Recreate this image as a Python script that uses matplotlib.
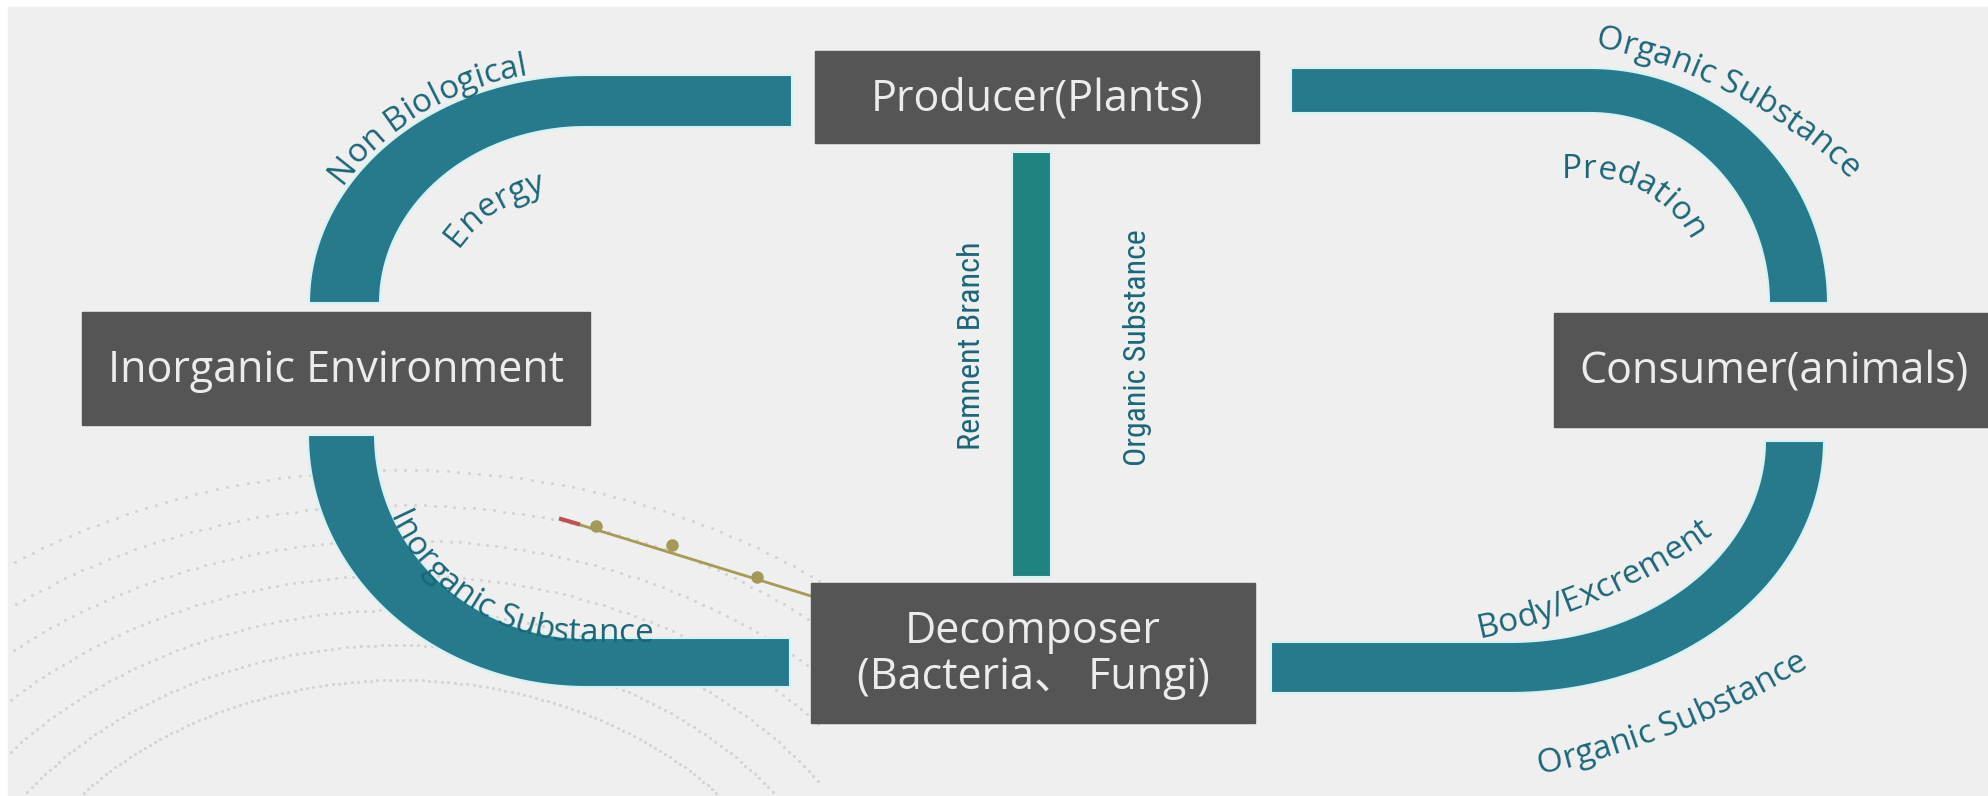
import numpy as np
import matplotlib.pyplot as plt
from matplotlib.patches import Rectangle, Polygon
from matplotlib import font_manager
from matplotlib.font_manager import FontProperties

# ---- diagram content ----
box_names = ["Producer(Plants)", "Inorganic Environment", "Consumer(animals)",
             "Decomposer\n(Bacteria、 Fungi)"]
flow_labels = ["Non Biological", "Energy", "Organic Substance", "Predation",
               "Inorganic Substance", "Body/Excrement", "Organic Substance"]
bar_labels = ["Remnent Branch", "Organic Substance"]

# ---- layout (pixel coordinates, y downwards) ----
W, H = 1988, 796
box_xy = [(815, 51, 444, 92), (82, 312, 508, 113), (1554, 313, 440, 114), (811, 583, 444, 140)]
# bands: ellipse centre, outer radii, inner radii, start/end angle, straight end x
bands = [
    dict(c=(586, 303), o=(277, 228), i=(206, 176), t=(180, 270), end=792),
    dict(c=(1590, 303), o=(238, 235), i=(179, 190), t=(270, 360), end=1291),
    dict(c=(586, 435), o=(278, 252), i=(211, 203), t=(90, 180), end=790),
    dict(c=(1510, 441), o=(314, 252), i=(255, 201), t=(0, 90), end=1271),
]
# label baselines: ellipse centre, radii, angle range, centre angle, reading direction
label_pos = [((586, 303), (283, 234), (180, 270), 235, 1),
             ((586, 303), (146, 116), (180, 270), 232, 1),
             ((1500, 538), (500, 500), (240, 355), 297.5, 1),
             ((1590, 303), (114, 125), (270, 360), 294, 1),
             ((586, 435), (215, 207), (90, 180), 114, -1),
             ((1358, 50), (600, 600), (10, 120), 66, -1),
             ((1342, -104), (900, 900), (30, 110), 68, -1)]
bar_pos = [(971, 346, 208), (1138, 348, 236)]

band_col = '#277a8b'
bar_col = '#1f8480'
box_col = '#555555'
lab_col = '#1b6678'

main_font = ['Open Sans', 'Noto Sans CJK SC', 'DejaVu Sans']

# pick a narrow face for the two vertical labels if one is installed
narrow_fp = FontProperties(family='Open Sans')
for f in font_manager.fontManager.ttflist:
    if f.name in ('Liberation Sans Narrow', 'Roboto Condensed', 'Open Sans Condensed'):
        narrow_fp = FontProperties(family=f.name)
        break
else:
    for f in font_manager.fontManager.ttflist:
        if f.name == 'DejaVu Sans' and f.stretch == 'condensed':
            narrow_fp = FontProperties(family='DejaVu Sans', stretch='condensed')
            break

fig = plt.figure(figsize=(W / 100, H / 100), dpi=100)
ax = fig.add_axes([0, 0, 1, 1])
ax.set_xlim(0, W)
ax.set_ylim(H, 0)
ax.axis('off')
ax.add_patch(Rectangle((8, 7), W, H, color='#efefef', zorder=0))
renderer = fig.canvas.get_renderer()

# faint dotted globe in the lower left background
for k in range(7):
    tg = np.radians(np.linspace(200, 340, 160))
    gx = 400 + (420 + 45 * k) * np.cos(tg)
    gy = 1010 + (330 + 35 * k) * np.sin(tg)
    keep = (gx > 10) & (gx < 820) & (gy < 796)
    ax.plot(gx[keep], gy[keep], '.', color='#d4d4d4', ms=2.5, zorder=0.5)

# decoration line at lower left
ax.plot([571, 811], [522, 596], color='#a89a55', lw=2, zorder=1)
ax.plot([561, 578], [519, 524], color='#c0504d', lw=3, zorder=1)
ax.plot([596, 672, 757], [526, 545, 577], 'o', color='#a39a5a', ms=8, zorder=1)


def ell(c, r, t):
    return c[0] + r[0] * np.cos(t), c[1] + r[1] * np.sin(t)


for b in bands:
    t = np.radians(np.linspace(b['t'][0], b['t'][1], 120))
    ox, oy = ell(b['c'], b['o'], t)
    ix, iy = ell(b['c'], b['i'], t[::-1])
    # straight part towards the middle boxes
    if b['t'] in [(180, 270), (0, 90)]:
        xs = np.r_[ox, b['end'], b['end'], ix]
        ys = np.r_[oy, oy[-1], iy[0], iy]
    else:
        xs = np.r_[b['end'], ox, ix, b['end']]
        ys = np.r_[oy[0], oy, iy, iy[-1]]
    ax.add_patch(Polygon(np.c_[xs, ys], closed=True, fc=band_col, ec='#d6f2f4', lw=1.5, zorder=2))

# vertical bar between producer and decomposer
ax.add_patch(Rectangle((1012, 152), 39, 425, fc=bar_col, ec='#d6f2f4', lw=1.5, zorder=2))

for (x, y, w, h), name in zip(box_xy, box_names):
    ax.add_patch(Rectangle((x, y), w, h, color=box_col, zorder=3))
    ax.text(x + w / 2, y + h / 2 + 2, name, color='#ececec', fontsize=31, family=main_font,
            ha='center', va='center', linespacing=1.05, zorder=4)


def width(txt, fp):
    return renderer.get_text_width_height_descent(txt + 'l', fp, ismath=False)[0] - \
        renderer.get_text_width_height_descent('l', fp, ismath=False)[0]


def arc_text(s, c, r, tr, t0, sign, size):
    fp = FontProperties(family='Open Sans', size=size)
    ta, tb = np.radians(tr)
    t = np.linspace(ta, tb, 600)
    x, y = ell(c, r, t)
    # straight continuation past both ends of the arc
    ua = np.array([r[0] * np.sin(ta), -r[1] * np.cos(ta)])
    ub = np.array([-r[0] * np.sin(tb), r[1] * np.cos(tb)])
    ua /= np.hypot(*ua)
    ub /= np.hypot(*ub)
    k = np.linspace(400, 2, 200)
    px = np.r_[x[0] + ua[0] * k, x, x[-1] + ub[0] * k[::-1]]
    py = np.r_[y[0] + ua[1] * k, y, y[-1] + ub[1] * k[::-1]]
    i0 = 200 + np.argmin(abs(t - np.radians(t0)))
    if sign < 0:
        px, py = px[::-1], py[::-1]
        i0 = len(px) - 1 - i0
    arc = np.r_[0, np.cumsum(np.hypot(np.diff(px), np.diff(py)))]
    arc -= arc[i0]
    total = width(s, fp)
    for i, ch in enumerate(s):
        left = width(s[:i], fp) if i else 0.0
        sc = -total / 2 + left + width(ch, fp) / 2
        xc, yc = np.interp(sc, arc, px), np.interp(sc, arc, py)
        j = int(np.clip(np.searchsorted(arc, sc), 1, len(px) - 1))
        rot = np.degrees(np.arctan2(-(py[j] - py[j - 1]), px[j] - px[j - 1]))
        ax.text(xc, yc, ch, fontproperties=fp, color=lab_col, rotation=rot,
                rotation_mode='anchor', ha='center', va='baseline', zorder=5)


for lab, (c, r, tr, t0, sgn) in zip(flow_labels, label_pos):
    arc_text(lab, c, r, tr, t0, sgn, 24)

for lab, (x, y, length) in zip(bar_labels, bar_pos):
    fp = narrow_fp.copy()
    fp.set_size(10)
    fp.set_size(10 * length / width(lab, fp))
    ax.text(x, y, lab, rotation=90, fontproperties=fp, color=lab_col,
            ha='center', va='center', zorder=5)

fig.savefig('out.png', dpi=100, facecolor='white')
